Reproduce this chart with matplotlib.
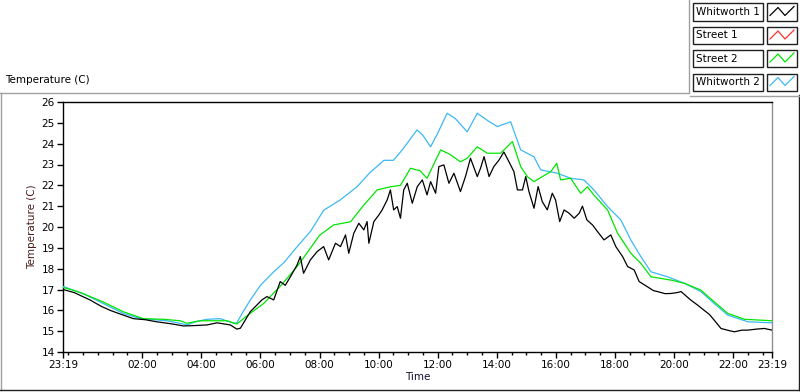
import matplotlib
matplotlib.use("Agg")
import matplotlib.pyplot as plt
from matplotlib.lines import Line2D
from matplotlib.patches import Rectangle

plt.rcParams['font.family'] = ['DejaVu Sans']

# ---------------- data (hours since midnight; start 23:19 of previous day) ----------------
series_names = ["Whitworth 1", "Street 1", "Street 2", "Whitworth 2"]
series_colors = ["#000000", "#ff3030", "#00e600", "#3db8f5"]

w1_t = [-0.68, -0.3, 0.0, 0.23, 0.6, 0.91, 1.3, 1.7, 2.1, 2.49, 3.0, 3.4, 3.8, 4.19, 4.53, 4.98,
        5.2, 5.32, 5.66, 6.05, 6.22, 6.45, 6.67, 6.84, 7.01, 7.24, 7.35, 7.46, 7.69, 7.92, 8.14,
        8.31, 8.54, 8.71, 8.88, 8.99, 9.16, 9.33, 9.5, 9.61, 9.67, 9.84, 10.01, 10.12, 10.29, 10.4,
        10.51, 10.63, 10.74, 10.85, 10.97, 11.14, 11.31, 11.48, 11.64, 11.76, 11.93, 12.04, 12.21,
        12.38, 12.55, 12.77, 12.94, 13.11, 13.34, 13.45, 13.57, 13.74, 13.9, 14.07, 14.24, 14.41,
        14.58, 14.7, 14.87, 14.98, 15.09, 15.26, 15.4, 15.54, 15.71, 15.88, 15.99, 16.13, 16.28,
        16.45, 16.62, 16.79, 16.9, 17.05, 17.24, 17.41, 17.63, 17.86, 18.03, 18.26, 18.43, 18.65,
        18.82, 19.1, 19.3, 19.44, 19.7, 19.9, 20.1, 20.24, 20.4, 20.57, 20.8, 21.02, 21.2, 21.36,
        21.59, 21.8, 22.04, 22.3, 22.5, 22.8, 23.06, 23.317]
w1_v = [17.0, 16.85, 16.65, 16.5, 16.2, 16.0, 15.8, 15.6, 15.55, 15.45, 15.35, 15.25, 15.27, 15.3,
        15.4, 15.3, 15.1, 15.14, 15.94, 16.5, 16.66, 16.5, 17.38, 17.2, 17.6, 18.18, 18.58, 17.78,
        18.42, 18.82, 19.06, 18.42, 19.22, 19.06, 19.62, 18.74, 19.7, 20.18, 19.86, 20.26, 19.22,
        20.26, 20.58, 20.82, 21.3, 21.78, 20.82, 20.98, 20.42, 21.78, 22.1, 21.14, 21.94, 22.26,
        21.54, 22.18, 21.62, 22.9, 22.98, 22.1, 22.58, 21.7, 22.42, 23.3, 22.42, 22.82, 23.38,
        22.42, 22.9, 23.2, 23.6, 23.14, 22.66, 21.78, 21.78, 22.42, 21.7, 20.9, 21.94, 21.22,
        20.82, 21.62, 21.3, 20.26, 20.82, 20.66, 20.42, 20.66, 21.0, 20.34, 20.1, 19.78, 19.38,
        19.62, 19.06, 18.58, 18.1, 17.94, 17.38, 17.13, 16.95, 16.9, 16.8, 16.81, 16.85, 16.9,
        16.7, 16.49, 16.25, 16.0, 15.8, 15.53, 15.13, 15.05, 14.97, 15.05, 15.05, 15.1, 15.13,
        15.05]

s1_t = []
s1_v = []

s2_t = [-0.68, -0.3, 0.0, 0.68, 1.36, 2.04, 2.72, 3.28, 3.51, 3.96, 4.5, 4.87, 5.2, 5.6, 6.11, 6.7,
        7.24, 7.6, 8.0, 8.48, 9.05, 9.5, 9.95, 10.4, 10.74, 11.08, 11.4, 11.64, 12.1, 12.4, 12.77,
        13.0, 13.34, 13.68, 14.13, 14.53, 14.81, 15.04, 15.26, 15.83, 16.03, 16.16, 16.5, 16.84,
        17.07, 17.29, 17.75, 18.09, 18.54, 18.88, 19.22, 19.9, 20.35, 20.91, 21.36, 21.82, 22.39,
        23.317]
s2_v = [17.1, 16.95, 16.8, 16.4, 15.93, 15.6, 15.57, 15.5, 15.38, 15.5, 15.5, 15.5, 15.34, 15.8,
        16.33, 17.2, 18.1, 18.8, 19.6, 20.1, 20.25, 21.05, 21.78, 21.93, 22.0, 22.82, 22.7, 22.34,
        23.7, 23.5, 23.13, 23.3, 23.85, 23.54, 23.54, 24.1, 22.9, 22.41, 22.18, 22.66, 23.06, 22.26,
        22.34, 21.62, 21.93, 21.53, 20.82, 19.7, 18.74, 18.25, 17.61, 17.45, 17.3, 16.97, 16.41,
        15.85, 15.57, 15.5]

w2_t = [-0.68, -0.3, 0.0, 0.5, 1.0, 1.36, 1.93, 2.4, 2.83, 3.2, 3.51, 3.8, 4.19, 4.64, 5.09, 5.2,
        5.4, 5.66, 6.0, 6.45, 6.8, 7.24, 7.7, 8.14, 8.7, 9.27, 9.7, 10.18, 10.5, 10.8, 11.3, 11.5,
        11.76, 12.0, 12.32, 12.6, 13.0, 13.34, 13.7, 14.02, 14.47, 14.81, 15.26, 15.49, 16.05,
        16.5, 16.95, 17.29, 17.75, 18.2, 18.54, 18.88, 19.22, 19.78, 20.35, 20.91, 21.36, 21.82,
        22.5, 23.317]
w2_v = [17.15, 16.95, 16.8, 16.45, 16.1, 15.85, 15.6, 15.55, 15.5, 15.4, 15.3, 15.45, 15.57, 15.6,
        15.38, 15.4, 15.9, 16.5, 17.2, 17.85, 18.3, 19.05, 19.8, 20.8, 21.3, 21.93, 22.6, 23.2,
        23.2, 23.7, 24.66, 24.4, 23.85, 24.5, 25.46, 25.2, 24.57, 25.46, 25.1, 24.82, 25.05, 23.7,
        23.37, 22.74, 22.58, 22.34, 22.26, 21.78, 20.98, 20.34, 19.37, 18.57, 17.85, 17.61, 17.3,
        16.9, 16.33, 15.77, 15.45, 15.4]

x_start, x_end = -0.6833, 23.3167
x_major = [x_start, 2, 4, 6, 8, 10, 12, 14, 16, 18, 20, 22, x_end]
x_labels = ["23:19", "02:00", "04:00", "06:00", "08:00", "10:00", "12:00", "14:00",
            "16:00", "18:00", "20:00", "22:00", "23:19"]
y_ticks = list(range(14, 27))

# ---------------- figure ----------------
W, H = 800, 392
fig = plt.figure(figsize=(W / 100, H / 100), dpi=100)
fig.patch.set_facecolor("white")

def fx(px):
    return px / W

def fy(py):
    return 1 - py / H

ax = fig.add_axes([fx(63), fy(352), fx(772) - fx(63), fy(102) - fy(352)])

data = [(w1_t, w1_v), (s1_t, s1_v), (s2_t, s2_v), (w2_t, w2_v)]
for i in [3, 2, 1, 0]:
    t, v = data[i]
    ax.plot(t, v, color=series_colors[i], lw=0.9, zorder=3 + (1 if i == 0 else 0))

ax.set_xlim(x_start, x_end)
ax.set_ylim(14, 26)
ax.set_xticks(x_major)
ax.set_xticklabels(x_labels)
minor = [m * 0.5 for m in range(-1, 47) if x_start < m * 0.5 < x_end and (m * 0.5) not in x_major]
ax.set_xticks(minor, minor=True)
ax.set_yticks(y_ticks)
ax.tick_params(axis="both", which="major", direction="out", length=4, width=1,
               labelsize=7.5, colors="black", pad=2)
ax.tick_params(axis="x", which="minor", direction="out", length=2.5, width=1, colors="black")
for s in ["left", "bottom", "top"]:
    ax.spines[s].set_color("black")
    ax.spines[s].set_linewidth(1)
ax.spines["right"].set_color("#909090")
ax.spines["right"].set_linewidth(1)

ax.set_xlabel("Time", fontsize=7.5, color="#101030", labelpad=1)
ax.set_ylabel("Temperature (C)", fontsize=7.5, color="#4a1c1c", labelpad=3)

# top label
fig.text(fx(5), fy(80), "Temperature (C)", fontsize=7.5, ha="left", va="center", color="black")

# outer frame
def hline(y, x0, x1, c):
    fig.add_artist(Line2D([fx(x0), fx(x1)], [fy(y), fy(y)], color=c, lw=1))

def vline(x, y0, y1, c):
    fig.add_artist(Line2D([fx(x), fx(x)], [fy(y0), fy(y1)], color=c, lw=1))

hline(92.5, 0, 688, "#a0a0a0")
vline(0.8, 92.5, 390, "#a0a0a0")
hline(390, 0, 799, "#202020")
vline(798.5, 95, 390, "#202020")
vline(688.5, 0, 92.5, "#a0a0a0")
hline(95.5, 690, 799, "#a0a0a0")

# legend
rows = [(3.5, 20.5), (27, 44), (50, 67), (73.5, 90.5)]
for i, (y0, y1) in enumerate(rows):
    fig.add_artist(Rectangle((fx(693), fy(y1)), fx(763) - fx(693), fy(y0) - fy(y1),
                             fill=False, edgecolor="#202020", lw=1))
    fig.text(fx(696), fy((y0 + y1) / 2), series_names[i], fontsize=7.5,
             ha="left", va="center", color="black")
    fig.add_artist(Rectangle((fx(767), fy(y1)), fx(797) - fx(767), fy(y0) - fy(y1),
                             fill=False, edgecolor="#202020", lw=1))
    zx = [770, 778, 785, 794]
    zy = [y0 + 12, y0 + 4, y0 + 12, y0 + 3]
    fig.add_artist(Line2D([fx(v) for v in zx], [fy(v) for v in zy],
                          color=series_colors[i], lw=0.9))

fig.savefig("out.png", dpi=100)
